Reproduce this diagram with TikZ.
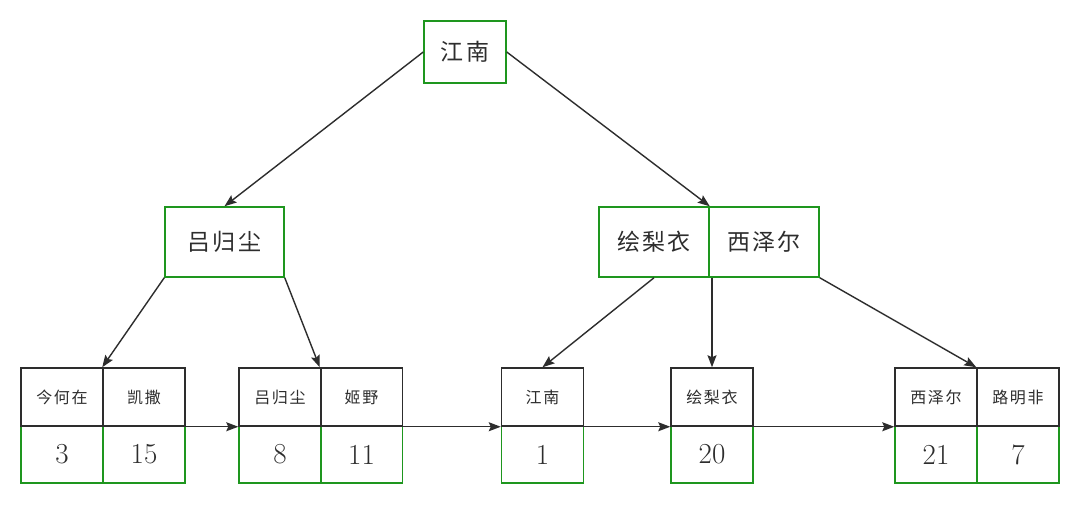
\documentclass[tikz,border=0pt]{standalone}
\usepackage{fontspec}
\newfontfamily\cjk[LetterSpace=10]{Noto Sans CJK SC}
\usetikzlibrary{arrows.meta}
\definecolor{boxgreen}{RGB}{30,150,30}
\definecolor{ink}{RGB}{45,45,45}
\begin{document}
\begin{tikzpicture}[x=1pt,y=-1pt,
  innerbox/.style={draw=boxgreen, line width=1.5pt, minimum height=70pt, inner sep=0pt, text=ink, font=\cjk\fontsize{23}{23}\selectfont},
  keybox/.style={draw=ink, line width=1.5pt, minimum width=82pt, minimum height=58pt, inner sep=0pt, text=ink, font=\cjk\fontsize{16}{16}\selectfont},
  valbox/.style={draw=boxgreen, line width=1.5pt, minimum width=82pt, minimum height=57pt, inner sep=0pt, text=ink, font=\fontsize{29}{29}\selectfont},
  link/.style={draw=ink, line width=1.4pt, -{Stealth[length=12pt,width=9pt,inset=2pt]}}]
\useasboundingbox[fill=white] (0,0) rectangle (1080,505);
% internal nodes
\node[innerbox, minimum width=82pt, minimum height=62pt] (root) at (465,52) {江南};
\node[innerbox, minimum width=119pt] (lv) at (224.5,242) {吕归尘};
\node[innerbox, minimum width=110pt] (rv1) at (654,242) {绘梨衣};
\node[innerbox, minimum width=110pt] (rv2) at (764,242) {西泽尔};
% leaves: values first, then keys on top
\node[valbox] (v1a) at (62,454.5) {3};
\node[valbox] (v1b) at (144,454.5) {15};
\node[valbox] (v2a) at (280,454.5) {8};
\node[valbox] (v2b) at (361.5,454.5) {11};
\node[valbox] (v3) at (542.5,454.5) {1};
\node[valbox] (v4) at (712,454.5) {20};
\node[valbox] (v5a) at (936,454.5) {21};
\node[valbox] (v5b) at (1018,454.5) {7};
\node[keybox] (k1a) at (62,397) {今何在};
\node[keybox] (k1b) at (144,397) {凯撒};
\node[keybox] (k2a) at (280,397) {吕归尘};
\node[keybox] (k2b) at (361.5,397) {姬野};
\node[keybox] (k3) at (542.5,397) {江南};
\node[keybox] (k4) at (712,397) {绘梨衣};
\node[keybox] (k5a) at (936,397) {西泽尔};
\node[keybox] (k5b) at (1018,397) {路明非};
% tree edges
\draw[link] (root.west) -- (lv.north);
\draw[link] (root.east) -- (rv1.north east);
\draw[link] (lv.south west) -- (k1b.north west);
\draw[link] (lv.south east) -- (k2b.north west);
\draw[link] (rv1.south) -- (k3.north);
\draw[link] (k4.north |- rv1.south) -- (k4.north);
\draw[link] (rv2.south east) -- (k5b.north west);
% leaf chain
\draw[link] (k1b.south east) -- (k2a.south west);
\draw[link] (k2b.south east) -- (k3.south west);
\draw[link] (k3.south east) -- (k4.south west);
\draw[link] (k4.south east) -- (k5a.south west);
\end{tikzpicture}
\end{document}
